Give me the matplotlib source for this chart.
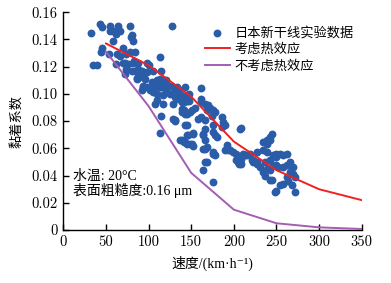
import numpy as np
import matplotlib
matplotlib.use("Agg")
from matplotlib import pyplot as plt
from matplotlib.ticker import FuncFormatter

plt.rcParams['font.family'] = ['Liberation Serif', 'Noto Sans CJK SC', 'DejaVu Sans']

# 日本新干线实验数据 (速度 km/h, 黏着系数)
exp_x = [33, 35, 39, 43, 45, 44, 45, 55, 55, 58.6, 58.6, 62, 64.5, 66.5, 78, 79, 80, 82,
         53, 62.6, 66.5, 70, 74, 78, 84, 62, 70, 72, 76, 82, 74, 84, 72, 80, 86, 88, 83,
         88, 98, 86, 92, 94, 98, 88, 96, 94, 98, 101.7, 107.5, 105.6, 109.5, 111.5, 115,
         117, 113, 121, 125, 129, 131, 117, 109.5, 107.5, 117, 115, 129, 113, 115, 127,
         113, 131, 100, 105.6, 92, 103.7, 106, 109.5, 119, 113, 121, 125, 133, 145, 147,
         139, 129, 139, 150.6, 154.5, 94, 92, 86,
         139, 144.7, 142.7, 148.6, 131, 143, 144.7, 158, 162, 166, 152.6, 146.6, 145, 139,
         137, 141, 145, 150.6, 143, 149, 152, 152, 164, 166, 176, 178, 180, 164, 164, 168,
         176, 178, 166, 168, 164, 175, 166, 176, 141, 144.7, 141, 135, 131, 137, 135, 147,
         143, 161, 161, 162, 166, 170, 172, 176, 168, 174, 178, 185.8, 145, 141, 166, 176,
         187.7, 189.6, 185.8, 207, 209, 191.6, 193.5, 199.4, 203, 211, 215, 219, 209, 207,
         221, 227, 189.6, 195.5, 203, 205, 209, 213, 227, 223, 227, 231, 205.5, 223,
         234.6, 242.4, 250, 258, 262, 266, 270, 272, 262, 258, 254, 250, 272, 242, 238.5,
         242.4, 244.4, 234.6, 238.5, 246, 250, 254, 258, 262, 238.5, 234.6, 242, 236.6,
         242.4, 246, 250, 252, 238.5, 236.6, 244.4, 248, 266, 270, 264, 268]
exp_y = [0.145, 0.121, 0.121, 0.151, 0.149, 0.131, 0.134, 0.150, 0.146, 0.1465, 0.139,
         0.144, 0.150, 0.1465, 0.150, 0.142, 0.143, 0.139,
         0.129, 0.129, 0.128, 0.134, 0.129, 0.1306, 0.1306, 0.122, 0.123, 0.123, 0.122,
         0.123, 0.118, 0.117, 0.1148, 0.117, 0.112, 0.118, 0.124,
         0.123, 0.123, 0.117, 0.117, 0.115, 0.116, 0.112, 0.111, 0.106, 0.105, 0.1026,
         0.105, 0.1013, 0.100, 0.106, 0.105, 0.1075, 0.111, 0.110, 0.106, 0.105, 0.1013,
         0.099, 0.0952, 0.0928, 0.0928, 0.084, 0.0818, 0.127, 0.117, 0.150, 0.071, 0.080,
         0.121, 0.117, 0.116, 0.1087, 0.106, 0.110, 0.1075, 0.105, 0.1026, 0.100, 0.105,
         0.099, 0.095, 0.094, 0.0928, 0.089, 0.088, 0.090, 0.105, 0.1026, 0.111,
         0.0867, 0.0855, 0.0855, 0.0867, 0.0806, 0.077, 0.077, 0.0818, 0.083, 0.0806,
         0.0708, 0.0696, 0.0696, 0.066, 0.066, 0.0647, 0.0635, 0.0635, 0.065, 0.0635,
         0.062, 0.071, 0.0696, 0.066, 0.072, 0.0696, 0.068, 0.0708, 0.0598, 0.061, 0.0574,
         0.055, 0.050, 0.050, 0.044, 0.0354, 0.0598, 0.056, 0.0977, 0.095, 0.094, 0.0965,
         0.0977, 0.100, 0.1038, 0.100, 0.105, 0.104, 0.0965, 0.094, 0.0928, 0.0916, 0.090,
         0.088, 0.088, 0.084, 0.0867, 0.083, 0.098, 0.088, 0.0745, 0.077,
         0.0793, 0.077, 0.0757, 0.0745, 0.075, 0.0623, 0.0586, 0.0574, 0.0562, 0.0562,
         0.055, 0.056, 0.0525, 0.050, 0.0513, 0.050, 0.0586, 0.0586, 0.0513, 0.050, 0.0488,
         0.055, 0.0574, 0.0513, 0.0488, 0.0464, 0.0488, 0.050,
         0.0427, 0.044, 0.0476, 0.0464, 0.0476, 0.0427, 0.0415, 0.039, 0.039, 0.034, 0.033,
         0.029, 0.028, 0.0366, 0.066, 0.068, 0.0708, 0.0586, 0.0574, 0.055, 0.0537, 0.0562,
         0.055, 0.056, 0.0635, 0.0647, 0.066, 0.050, 0.0513, 0.0476, 0.056, 0.0464, 0.045,
         0.040, 0.0366, 0.028, 0.050, 0.0464, 0.036, 0.033]

# 计算结果
speed = [50, 100, 150, 200, 250, 300, 350]
mu_heat = [0.137, 0.121, 0.098, 0.065, 0.044, 0.030, 0.022]
mu_noheat = [0.131, 0.091, 0.042, 0.015, 0.005, 0.002, 0.0008]

xticks = [0, 50, 100, 150, 200, 250, 300, 350]
yticks = [0, 0.02, 0.04, 0.06, 0.08, 0.10, 0.12, 0.14, 0.16]

fig = plt.figure(figsize=(3.91, 2.83), dpi=100)
ax = fig.add_axes([0.162, 0.187, 0.763, 0.770])

ax.scatter(exp_x, exp_y, s=32, color='#2b5ca8', linewidths=0, label='日本新干线实验数据', zorder=2)
ax.plot(speed, mu_heat, color='#ee2222', lw=1.4, label='考虑热效应', zorder=3)
ax.plot(speed, mu_noheat, color='#a35db3', lw=1.4, label='不考虑热效应', zorder=3)

ax.set_xlim(0, 350)
ax.set_ylim(0, 0.16)
ax.set_xticks(xticks)
ax.set_yticks(yticks)
ax.yaxis.set_major_formatter(FuncFormatter(lambda v, p: '0' if v == 0 else '%.2f' % v))
ax.tick_params(direction='in', length=4, width=1, labelsize=10.5, pad=4)
for lab in ax.get_xticklabels() + ax.get_yticklabels():
    lab.set_fontfamily('cmr10')
ax.spines['top'].set_visible(False)
ax.spines['right'].set_visible(False)
for s in ['left', 'bottom']:
    ax.spines[s].set_linewidth(1)

ax.set_xlabel('速度/(km·h⁻¹)', fontsize=10, labelpad=5)
ax.set_ylabel('黏着系数', fontsize=9.5, labelpad=6)

ax.text(11, 0.0398, '水温: 20°C', fontsize=10, va='center')
ax.text(11, 0.0288, '表面粗糙度:0.16 μm', fontsize=10, va='center')

leg = ax.legend(loc='upper right', bbox_to_anchor=(1.0, 0.97), frameon=False, fontsize=9.5,
                handlelength=1.9, handletextpad=0.35, labelspacing=0.3, borderaxespad=0.2)

fig.savefig('out.png', dpi=100)
